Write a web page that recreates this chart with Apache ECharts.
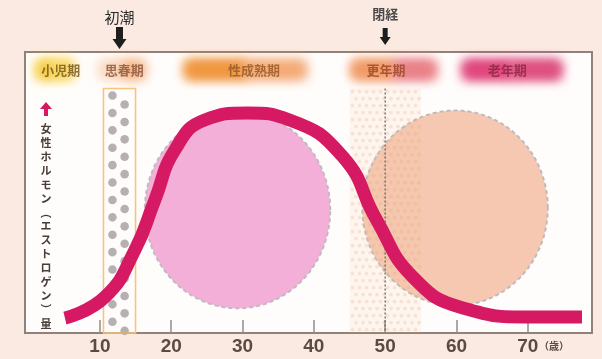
<!DOCTYPE html>
<html>
<head>
<meta charset="utf-8">
<script src="https://cdn.jsdelivr.net/npm/echarts@6/dist/echarts.min.js"></script>
<style>
  html, body { margin: 0; padding: 0; background: #fbeae2; }
  #chart { width: 602px; height: 359px; }
</style>
</head>
<body>
<div id="chart"></div>
<script>
// Age in years on x; estrogen level on a relative 0-100 scale on y.
const ages = [5.1, 10.7, 14.9, 17.7, 20.5, 24.7, 30.7, 36.6, 44.1, 48.8, 53.9, 60.9, 70.3, 77.6];
const estrogen = [5.3, 12.8, 29.5, 47.3, 65.1, 75.8, 78.3, 75.8, 62.6, 40.2, 19.9, 8.9, 5.7, 5.7];
const xTicks = [10, 20, 30, 40, 50, 60, 70];

// Life stages: name, age span of the glow, age where the name sits.
const stageNames = ['小児期', '思春期', '性成熟期', '更年期', '老年期'];
const stageFrom = [1.2, 10.0, 22.0, 45.4, 61.0];
const stageTo = [6.2, 16.2, 38.8, 57.0, 74.6];
const stageLabelAge = [4.5, 13.4, 31.6, 50.1, 67.1];
const stageStripLevel = [90.6, 96.8];
const stageLabelLevel = 93.6;

// Periods highlighted with a shaded column.
const pubertySpan = [10.5, 15];
const menopauseSpan = [45, 55];
const columnTopLevel = 87;

// Events marked with an arrow above the plot.
const eventNames = ['初潮', '閉経'];
const eventAges = [12.75, 50];

// Large bubbles: centre age, centre level, radius in years, radius in level units.
const bubbleAge = [29.3, 59.8];
const bubbleLevel = [43.8, 44.5];
const bubbleRadiusAge = [13, 13];
const bubbleRadiusLevel = [35, 34.7];

const yTitle = ['女', '性', 'ホ', 'ル', 'モ', 'ン', '︵', 'エ', 'ス', 'ト', 'ロ', 'ゲ', 'ン', '︶', '量'];

// ---- styling ----
const stageColors = [['#f7cf45', '#f8d85c'], ['rgba(250,205,170,0.6)', 'rgba(246,178,128,0.8)'],
                     ['#f0973f', 'rgba(243,166,112,0.85)'], ['#f19a66', '#ea8088'], ['#e0467c', '#de4f80']];
const stageTextColors = ['#7d5a22', '#8e5840', '#9a5a28', '#9c4a28', '#8f2845'];
const bubbleFills = ['#f4afd8', '#f6c8b2'];
const eventStyle = [
  { tip: 3, shaftTop: 22, headBase: 10, head: 7, shaft: 3.5, textY: 32, size: 15, color: '#2a2a2a', weight: 'normal' },
  { tip: 7, shaftTop: 17, headBase: 8, head: 5.5, shaft: 2.5, textY: 31, size: 13, color: '#4a4a4a', weight: 'bold' }
];
const CJK = '"Noto Sans CJK JP", "Noto Sans", sans-serif';

const chart = echarts.init(document.getElementById('chart'), null, { renderer: 'canvas' });

function stageRender(params, api) {
  const i = params.dataIndex;
  const a = api.coord([api.value(0), stageStripLevel[1]]);
  const b = api.coord([api.value(1), stageStripLevel[0]]);
  const w = b[0] - a[0], h = b[1] - a[1];
  const off = 3000;
  const glows = [];
  // two passes of each half give a denser, softer glow
  for (let pass = 0; pass < 2; pass++) {
    [0, 1].forEach(k => glows.push({
      type: 'rect',
      shape: { x: a[0] + k * w / 2, y: a[1] - off, width: w / 2 + (k === 0 ? 1 : 0), height: h },
      style: { fill: '#000', shadowBlur: 12, shadowOffsetY: off, shadowColor: stageColors[i][k] }
    }));
  }
  const lp = api.coord([stageLabelAge[i], stageLabelLevel]);
  return {
    type: 'group',
    children: glows.concat([{
      type: 'text',
      style: {
        text: stageNames[i], x: lp[0], y: lp[1], align: 'center', verticalAlign: 'middle',
        font: 'bold 13px ' + CJK, fill: stageTextColors[i], opacity: 0.85
      }
    }])
  };
}

function bubbleRender(params, api) {
  const cx = api.value(0), cy = api.value(1), rx = api.value(2), ry = api.value(3);
  const pts = [];
  const n = 160;
  for (let k = 0; k < n; k++) {
    const t = k / n * Math.PI * 2;
    pts.push(api.coord([cx + rx * Math.cos(t), cy + ry * Math.sin(t)]));
  }
  return {
    type: 'polygon',
    shape: { points: pts },
    style: { fill: bubbleFills[params.dataIndex], stroke: '#bdbcbc', lineWidth: 2, lineDash: [4, 3] }
  };
}

function menopauseRender(params, api) {
  const a = api.coord([api.value(0), columnTopLevel]);
  const b = api.coord([api.value(1), 0]);
  const mid = api.coord([eventAges[1], columnTopLevel]);
  const children = [{
    type: 'rect',
    shape: { x: a[0], y: a[1], width: b[0] - a[0], height: b[1] - a[1] },
    style: { fill: 'rgba(240,190,150,0.13)' }
  }];
  const step = 7;
  let row = 0;
  for (let y = a[1] + 3; y < b[1]; y += step, row++) {
    for (let x = a[0] + 3 + (row % 2) * step / 2; x < b[0] - 1; x += step) {
      children.push({
        type: 'circle', shape: { cx: x, cy: y, r: 1.9 },
        style: { fill: 'rgba(228,160,120,0.22)' }
      });
    }
  }
  children.push({
    type: 'line',
    shape: { x1: mid[0], y1: mid[1], x2: mid[0], y2: b[1] },
    style: { stroke: '#5d5d5d', lineWidth: 1.2, lineDash: [2, 2] }
  });
  return { type: 'group', children };
}

function pubertyRender(params, api) {
  const a = api.coord([api.value(0), columnTopLevel]);
  const b = api.coord([api.value(1), 0]);
  const w = b[0] - a[0];
  const children = [];
  const step = 17.4;
  [[0.28, 7], [0.66, 16]].forEach(([fx, start]) => {
    for (let y = a[1] + start; y < b[1] + 3; y += step) {
      children.push({
        type: 'circle', shape: { cx: a[0] + w * fx, cy: y, r: 4.3 },
        style: { fill: 'rgba(110,100,104,0.5)' }
      });
    }
  });
  children.push({
    type: 'rect',
    shape: { x: a[0], y: a[1], width: w, height: b[1] - a[1] },
    style: { fill: 'none', stroke: '#f6c47c', lineWidth: 1.6 }
  });
  return { type: 'group', children };
}

function eventRender(params, api) {
  const i = params.dataIndex;
  const s = eventStyle[i];
  const p = api.coord([api.value(0), 100]);
  const x = p[0], tip = p[1] - s.tip;
  return {
    type: 'group',
    children: [{
      type: 'polygon',
      shape: {
        points: [[x - s.shaft, tip - s.shaftTop], [x + s.shaft, tip - s.shaftTop], [x + s.shaft, tip - s.headBase],
                 [x + s.head, tip - s.headBase], [x, tip], [x - s.head, tip - s.headBase], [x - s.shaft, tip - s.headBase]]
      },
      style: { fill: '#1e1e1e' }
    }, {
      type: 'text',
      style: {
        text: eventNames[i], x: x, y: tip - s.textY, align: 'center', verticalAlign: 'middle',
        font: s.weight + ' ' + s.size + 'px ' + CJK, fill: s.color
      }
    }]
  };
}

const option = {
  animation: false,
  backgroundColor: '#fbeae2',
  grid: {
    left: 25, right: 10, top: 52, bottom: 26,
    show: true, backgroundColor: '#fffdfc', borderColor: '#8e827b', borderWidth: 2
  },
  xAxis: {
    type: 'value', min: -0.5, max: 79,
    splitLine: { show: false },
    axisLine: { show: true, lineStyle: { color: '#8e827b', width: 2 } },
    axisTick: { show: true, inside: true, length: 13, customValues: xTicks, lineStyle: { color: '#8f8f8f', width: 1.5 } },
    axisLabel: {
      customValues: xTicks, margin: 4,
      formatter: v => v === 70 ? '{p|}{n|70}{u|（歳）}' : '{n|' + v + '}',
      rich: {
        n: { fontFamily: '"Liberation Sans", Arial, sans-serif', fontWeight: 'bold', fontSize: 19, color: '#5a4a44' },
        u: { fontFamily: CJK, fontWeight: 'bold', fontSize: 10, color: '#5a4a44', width: 31 },
        p: { width: 31 }
      }
    }
  },
  yAxis: { type: 'value', min: 0, max: 100, show: false, splitLine: { show: false } },
  graphic: [{
    type: 'group', left: 40, top: 102,
    children: [{
      type: 'polygon',
      shape: { points: [[7, 0], [13, 7], [9, 7], [9, 14], [5, 14], [5, 7], [1, 7]] },
      style: { fill: '#d51a63' }
    }, {
      type: 'text', x: 7, y: 20,
      style: {
        text: yTitle.join('\n'), align: 'center', verticalAlign: 'top',
        font: 'bold 11px ' + CJK, lineHeight: 13.9, fill: '#4a3c36'
      }
    }]
  }],
  series: [{
    type: 'custom', name: 'stages', renderItem: stageRender, silent: true,
    data: stageFrom.map((f, i) => [f, stageTo[i]])
  }, {
    type: 'custom', name: 'bubbles', renderItem: bubbleRender, silent: true,
    data: bubbleAge.map((a, i) => [a, bubbleLevel[i], bubbleRadiusAge[i], bubbleRadiusLevel[i]])
  }, {
    type: 'custom', name: 'menopause', renderItem: menopauseRender, silent: true,
    data: [menopauseSpan]
  }, {
    type: 'line', name: 'estrogen',
    data: ages.map((a, i) => [a, estrogen[i]]),
    smooth: 0.5, showSymbol: false, silent: true,
    lineStyle: { color: '#d51a63', width: 13, cap: 'butt', join: 'round' }
  }, {
    type: 'custom', name: 'puberty', renderItem: pubertyRender, silent: true,
    data: [pubertySpan]
  }, {
    type: 'custom', name: 'events', renderItem: eventRender, silent: true,
    data: eventAges.map(a => [a])
  }]
};

chart.setOption(option);
</script>
</body>
</html>
